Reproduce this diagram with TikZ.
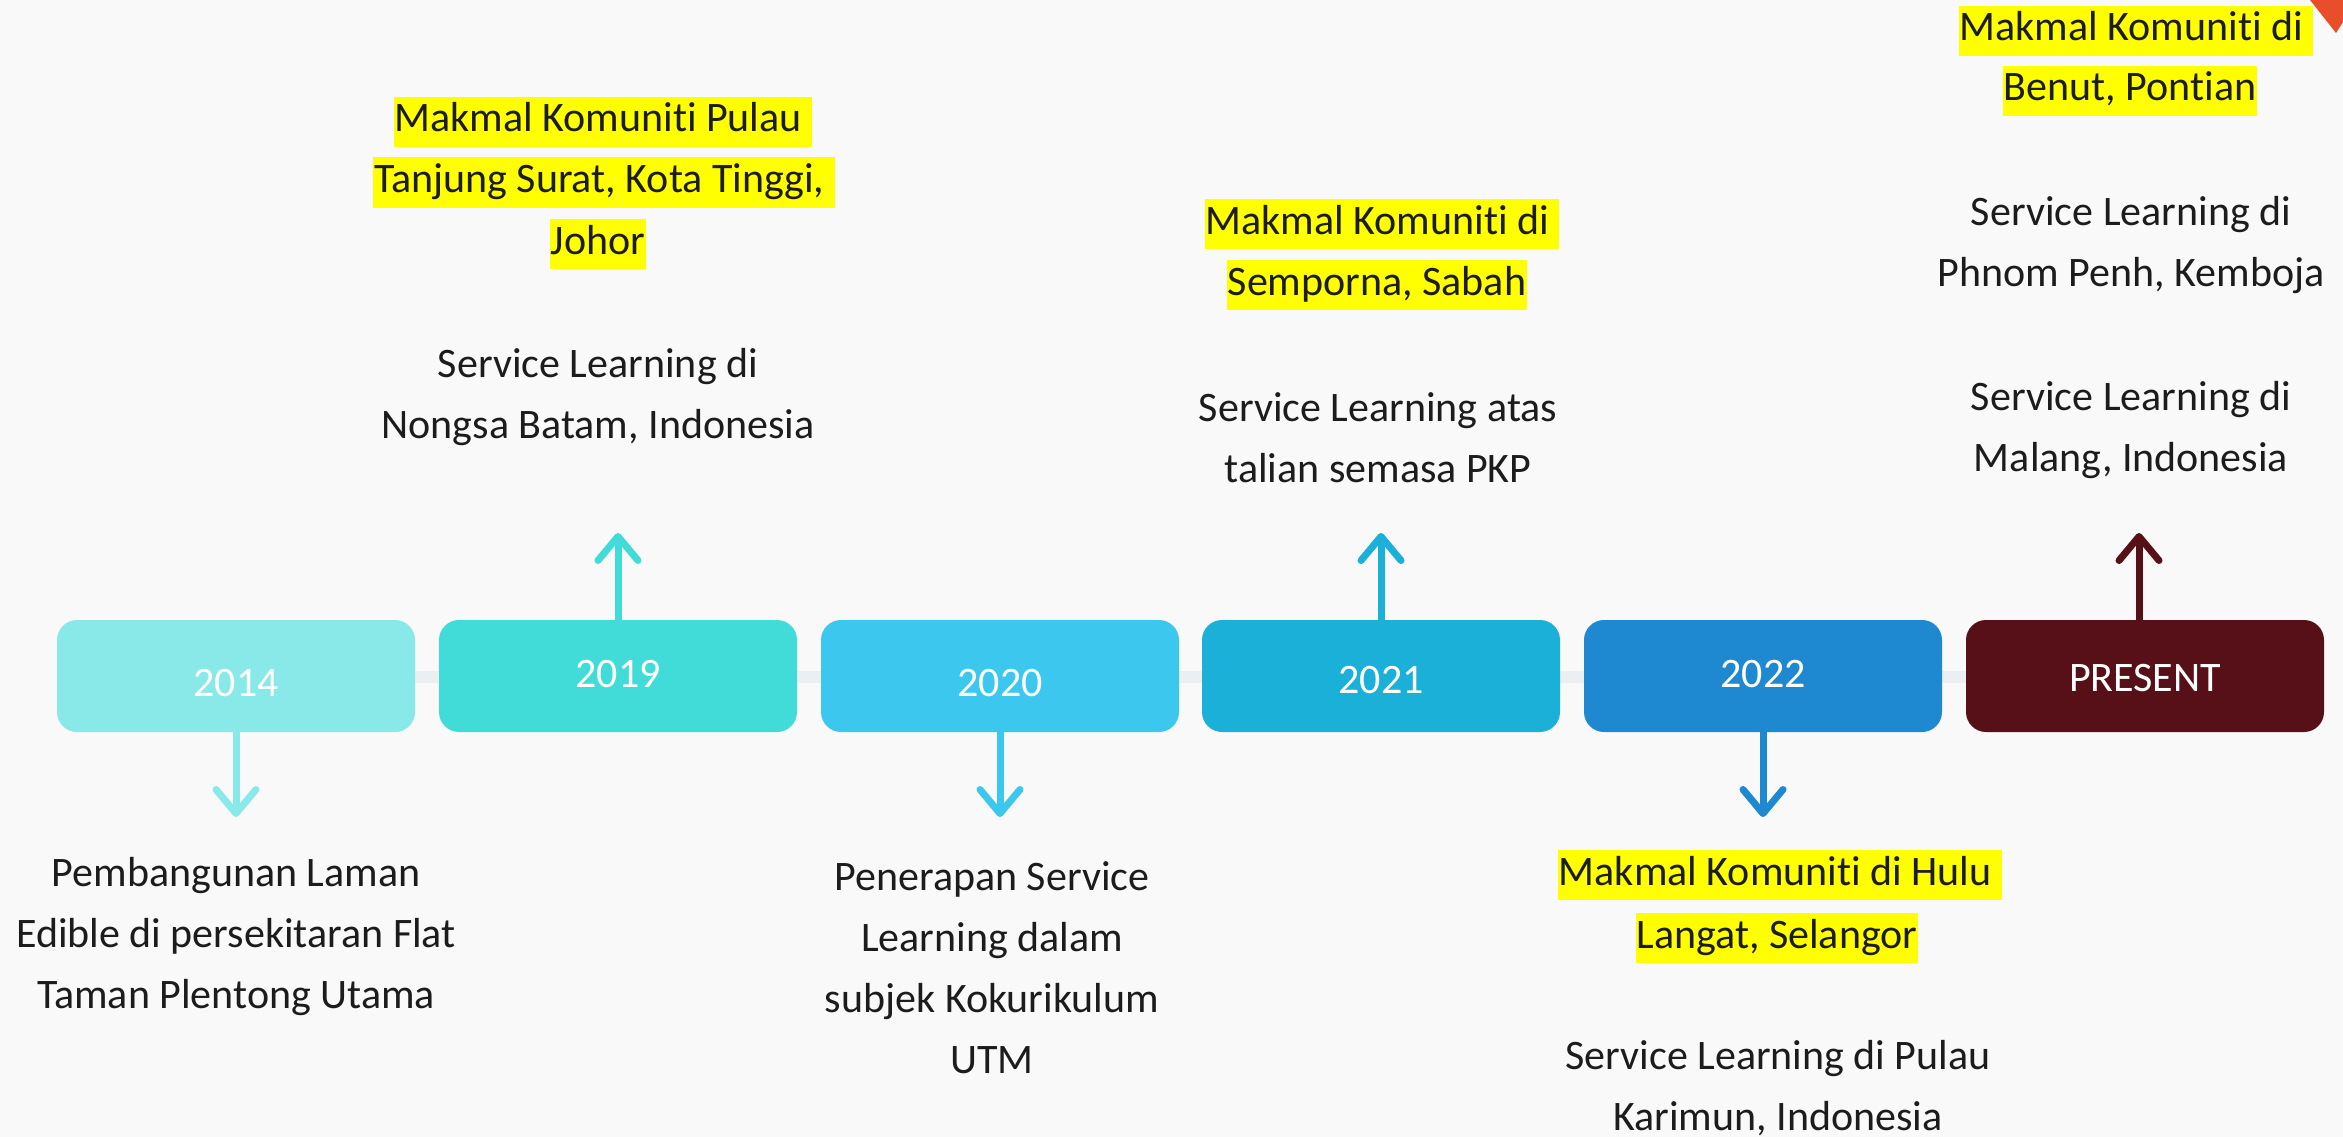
\documentclass[tikz,border=0pt]{standalone}
\usepackage{fontspec}
\setmainfont[RawFeature={-liga;-clig;-dlig;-calt}]{Carlito}
\usetikzlibrary{arrows.meta,calc}
\definecolor{bgc}{HTML}{F9F9F9}
\definecolor{ink}{HTML}{1C1C1C}
\definecolor{linec}{HTML}{ECEFF1}
\definecolor{cA}{HTML}{88E9E8}
\definecolor{cB}{HTML}{41DBD8}
\definecolor{cC}{HTML}{3CC8EE}
\definecolor{cD}{HTML}{1AB0D8}
\definecolor{cE}{HTML}{1E89D0}
\definecolor{cF}{HTML}{570F18}
\definecolor{redc}{HTML}{E94E2A}
\definecolor{hly}{HTML}{FFFF00}
\begin{document}
\begin{tikzpicture}[x=1pt,y=-1pt,
  yearbox/.style={rounded corners=20pt, minimum width=358pt, minimum height=112pt,
    inner sep=0pt, text=white, font=\fontsize{42}{50}\selectfont, text depth=0pt},
  hl/.style={fill=hly, inner xsep=1pt, inner ysep=4pt, text height=31pt, text depth=11pt,
    font=\fontsize{42}{61}\selectfont, text=ink, yshift=-4pt},
  body/.style={align=center, font=\fontsize{42}{61}\selectfont, text=ink, inner sep=0pt, yshift=-4pt},
  arr/.style={line width=7pt, -{Straight Barb[length=24pt,width=40pt,round]}}
]
\useasboundingbox (0,0) rectangle (2343,1137);
\fill[bgc] (0,0) rectangle (2343,1137);
\fill[redc] (2310,0) -- (2343,0) -- (2343,22) -- (2336,33) -- cycle;

% connecting line
\coordinate (lineL) at (236,677);
\coordinate (lineR) at (2145,677);
\draw[linec, line width=12pt] (lineL) -- (lineR);

% year boxes
\node[yearbox, fill=cA, text height=40.5pt] (b2014) at (236,676) {2014};
\node[yearbox, fill=cB, text height=22.5pt] (b2019) at (618,676) {2019};
\node[yearbox, fill=cC, text height=40.5pt] (b2020) at (1000,676) {2020};
\node[yearbox, fill=cD, text height=34.5pt] (b2021) at (1381,676) {2021};
\node[yearbox, fill=cE, text height=22.5pt] (b2022) at (1763,676) {2022};
\node[yearbox, fill=cF, text height=30.5pt] (bP) at (2145,676) {PRESENT};

% arrows
\coordinate (a2014) at (236,817);
\coordinate (a2019) at (618,533);
\coordinate (a2020) at (1000,817);
\coordinate (a2021) at (1381,533);
\coordinate (a2022) at (1763,817);
\coordinate (aP) at (2139,533);
\draw[arr, cA] (b2014.south) -- (a2014);
\draw[arr, cB] (b2019.north) -- (a2019);
\draw[arr, cC] (b2020.south) -- (a2020);
\draw[arr, cD] (b2021.north) -- (a2021);
\draw[arr, cE] (b2022.south) -- (a2022);
\draw[arr, cF] (bP.north -| aP) -- (aP);

% 2014
\node[body] (t2014) at (236,933) {Pembangunan Laman\\Edible di persekitaran Flat\\Taman Plentong Utama};

% 2019
\node[hl] (h19a) at (603,118) {Makmal Komuniti Pulau\kern0.226em};
\node[hl] (h19b) at (604,178.5) {Tanjung Surat, Kota Tinggi,\kern0.226em};
\node[hl] (h19c) at (598,240) {Johor};
\node[body] (t2019) at (598,393.5) {Service Learning di\\Nongsa Batam, Indonesia};

% 2020
\node[body] (t2020) at (992,963.5) {Penerapan Service\\Learning dalam\\subjek Kokurikulum\\UTM};

% 2021
\node[hl] (h21a) at (1382,220) {Makmal Komuniti di\kern0.226em};
\node[hl] (h21b) at (1377,281) {Semporna, Sabah};
\node[body] (t2021) at (1378,434) {Service Learning atas\\talian semasa PKP};

% 2022
\node[hl] (h22a) at (1780,871) {Makmal Komuniti di Hulu\kern0.226em};
\node[hl] (h22b) at (1777,934) {Langat, Selangor};
\node[body] (t2022) at (1778,1084) {Service Learning di Pulau\\Karimun, Indonesia};

% present
\node[hl] (hPa) at (2136,27) {Makmal Komuniti di\kern0.226em};
\node[hl] (hPb) at (2130,87) {Benut, Pontian};
\node[body] (tPa) at (2131,241.5) {Service Learning di\\Phnom Penh, Kemboja};
\node[body] (tPb) at (2131,426) {Service Learning di\\Malang, Indonesia};
\end{tikzpicture}
\end{document}
